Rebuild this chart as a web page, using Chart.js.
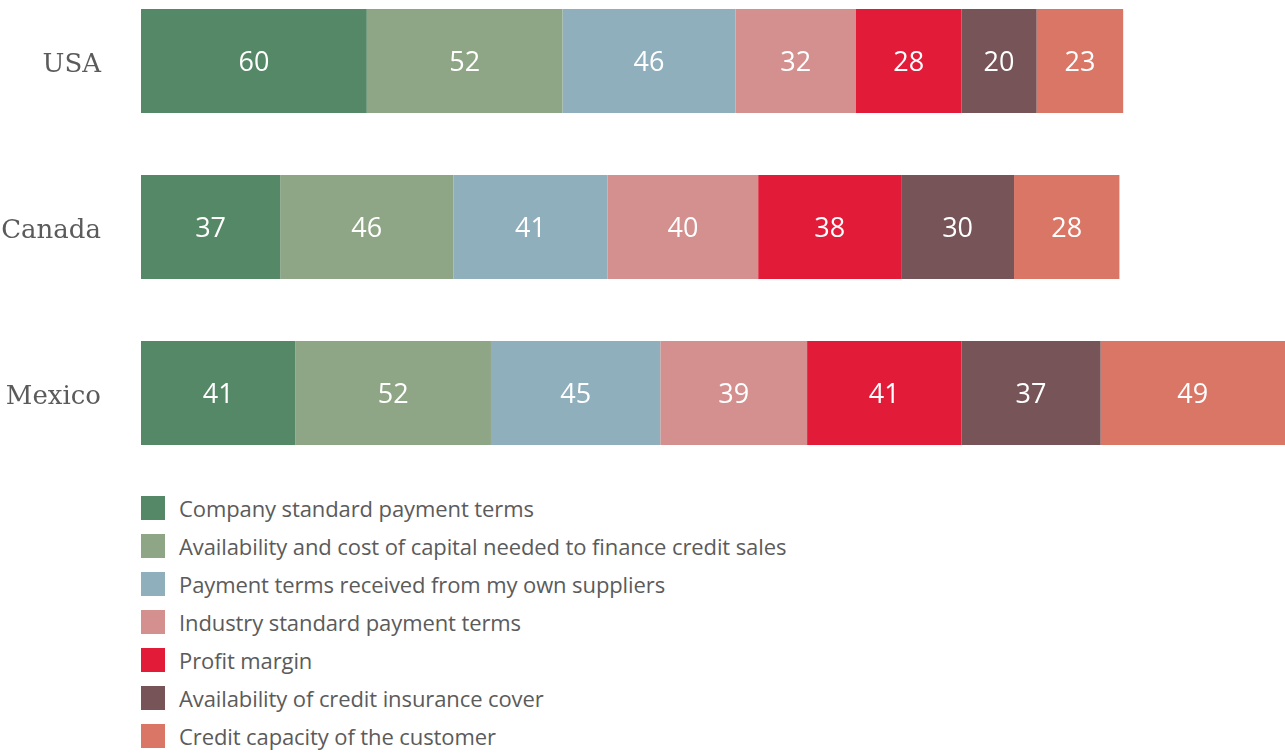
<!DOCTYPE html>
<html>
<head>
<meta charset="utf-8">
<script src="https://cdn.jsdelivr.net/npm/chart.js@4"></script>
<style>
  html, body { margin: 0; padding: 0; background: #ffffff; overflow: hidden; }
  #page { position: relative; width: 1285px; height: 754px; overflow: hidden; }
  #wrap { position: absolute; left: 0; top: -22px; width: 1285px; height: 498px; }
  #legend { position: absolute; left: 141px; top: 489px; margin: 0; padding: 0; list-style: none;
    font-family: "Open Sans", sans-serif; font-size: 22px; color: #5b5b5b; letter-spacing: -0.1px; }
  #legend li { height: 38px; display: flex; align-items: center; white-space: nowrap; }
  #legend .box { width: 24px; height: 24px; margin-right: 14px; flex: none; }
</style>
</head>
<body>
<div id="page">
  <div id="wrap"><canvas id="c"></canvas></div>
  <ul id="legend"></ul>
</div>
<script>
const categories = ["USA", "Canada", "Mexico"];
const seriesNames = [
  "Company standard payment terms",
  "Availability and cost of capital needed to finance credit sales",
  "Payment terms received from my own suppliers",
  "Industry standard payment terms",
  "Profit margin",
  "Availability of credit insurance cover",
  "Credit capacity of the customer"
];
const companyStandard = [60, 37, 41];
const capitalAvailability = [52, 46, 52];
const supplierTerms = [46, 41, 45];
const industryStandard = [32, 40, 39];
const profitMargin = [28, 38, 41];
const creditInsurance = [20, 30, 37];
const creditCapacity = [23, 28, 49];
const seriesColors = ["#558866", "#8fa686", "#8fafbd", "#d4908e", "#e21c38", "#765457", "#da7666"];

const seriesValues = [companyStandard, capitalAvailability, supplierTerms, industryStandard, profitMargin, creditInsurance, creditCapacity];

const datasets = seriesNames.map((name, i) => ({
  label: name,
  data: seriesValues[i],
  backgroundColor: seriesColors[i],
  borderWidth: 0,
  barPercentage: 1,
  categoryPercentage: 104 / 166
}));

const valueLabels = {
  id: "valueLabels",
  afterDatasetsDraw(chart) {
    const ctx = chart.ctx;
    ctx.save();
    ctx.fillStyle = "#ffffff";
    ctx.font = "27px 'Open Sans', sans-serif";
    ctx.textAlign = "center";
    ctx.textBaseline = "middle";
    chart.data.datasets.forEach((ds, di) => {
      const meta = chart.getDatasetMeta(di);
      meta.data.forEach((bar, i) => {
        const p = bar.getProps(["x", "y", "base"], true);
        ctx.fillText(String(ds.data[i]), (p.x + p.base) / 2, p.y + 2);
      });
    });
    ctx.restore();
  }
};

new Chart(document.getElementById("c"), {
  type: "bar",
  data: { labels: categories, datasets },
  options: {
    indexAxis: "y",
    responsive: true,
    maintainAspectRatio: false,
    animation: false,
    layout: { padding: 0 },
    plugins: { legend: { display: false }, tooltip: { enabled: false } },
    scales: {
      x: { stacked: true, min: 0, max: 304, display: false },
      y: {
        stacked: true,
        border: { display: false },
        grid: { display: false, drawTicks: false },
        ticks: {
          padding: 40,
          labelOffset: 4,
          color: "#5b5b5b",
          font: { family: "'DejaVu Serif', serif", size: 26 }
        },
        afterFit(scale) {
          scale.width = 141;
          scale.paddingTop = 0;
          scale.paddingBottom = 0;
        }
      }
    }
  },
  plugins: [valueLabels]
});

const legend = document.getElementById("legend");
seriesNames.forEach((name, i) => {
  const li = document.createElement("li");
  const box = document.createElement("span");
  box.className = "box";
  box.style.background = seriesColors[i];
  li.appendChild(box);
  li.appendChild(document.createTextNode(name));
  legend.appendChild(li);
});
</script>
</body>
</html>
